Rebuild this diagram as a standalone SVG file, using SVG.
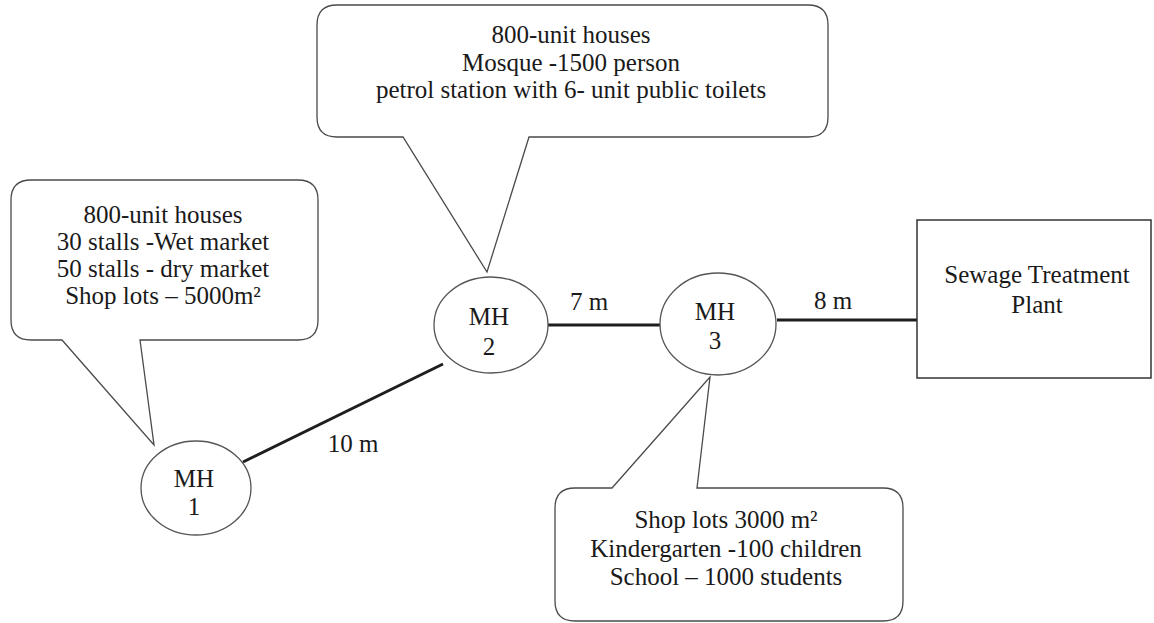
<svg xmlns="http://www.w3.org/2000/svg" width="1154" height="623" viewBox="0 0 1154 623">
<style>
.bg{fill:#fff}
.callout{fill:#fff;stroke:#4a4a4a;stroke-width:1.3}
.mh{fill:#fff;stroke:#555;stroke-width:1.3}
.plant{fill:#fff;stroke:#333;stroke-width:1.5}
.pipe{stroke:#1e1e1e;stroke-width:3;fill:none}
.t{font-size:25px;fill:#1a1a1a;text-anchor:middle}
</style>
<rect class="bg" x="0" y="0" width="1154" height="623"/>
<g font-family="Liberation Serif, DejaVu Serif, serif">
<g id="connectors">
<line class="pipe" x1="243" y1="462" x2="443" y2="364"/>
<line class="pipe" x1="548" y1="325" x2="661" y2="325"/>
<line class="pipe" x1="777" y1="320" x2="917" y2="320"/>
<text class="t" x="353" y="452">10 m</text>
<text class="t" x="589" y="310">7 m</text>
<text class="t" x="833" y="309">8 m</text>
</g>
<g id="callout-mh1">
<path class="callout" d="M31,180 H298 Q318,180 318,200 V320 Q318,340 298,340 H140 L154,445 L62,340 H31 Q11,340 11,320 V200 Q11,180 31,180 Z"/>
<text class="t" x="163" y="223">800-unit houses</text>
<text class="t" x="163" y="250">30 stalls -Wet market</text>
<text class="t" x="163" y="277">50 stalls - dry market</text>
<text class="t" x="163" y="304">Shop lots – 5000m²</text>
</g>
<g id="callout-mh2">
<path class="callout" d="M337,5 H808 Q828,5 828,25 V117 Q828,137 808,137 H529 L487,272 L403,137 H337 Q317,137 317,117 V25 Q317,5 337,5 Z"/>
<text class="t" x="571" y="43">800-unit houses</text>
<text class="t" x="571" y="71">Mosque -1500 person</text>
<text class="t" x="571" y="98">petrol station with 6- unit public toilets</text>
</g>
<g id="callout-mh3">
<path class="callout" d="M575,488 H612 L710,377 L697,488 H883 Q903,488 903,508 V601 Q903,621 883,621 H575 Q555,621 555,601 V508 Q555,488 575,488 Z"/>
<text class="t" x="726" y="528">Shop lots 3000 m²</text>
<text class="t" x="726" y="557">Kindergarten -100 children</text>
<text class="t" x="726" y="585">School – 1000 students</text>
</g>
<g id="mh1">
<ellipse class="mh" cx="196" cy="488" rx="55" ry="47"/>
<text class="t" x="194" y="487">MH</text>
<text class="t" x="194" y="515">1</text>
</g>
<g id="mh2">
<ellipse class="mh" cx="491" cy="325" rx="57" ry="48"/>
<text class="t" x="489" y="325">MH</text>
<text class="t" x="489" y="355">2</text>
</g>
<g id="mh3">
<ellipse class="mh" cx="718" cy="324" rx="58" ry="51"/>
<text class="t" x="715" y="320">MH</text>
<text class="t" x="715" y="349">3</text>
</g>
<g id="plant">
<rect class="plant" x="917" y="220" width="234" height="158"/>
<text class="t" x="1037" y="283">Sewage Treatment</text>
<text class="t" x="1037" y="313">Plant</text>
</g>
</g>
</svg>
